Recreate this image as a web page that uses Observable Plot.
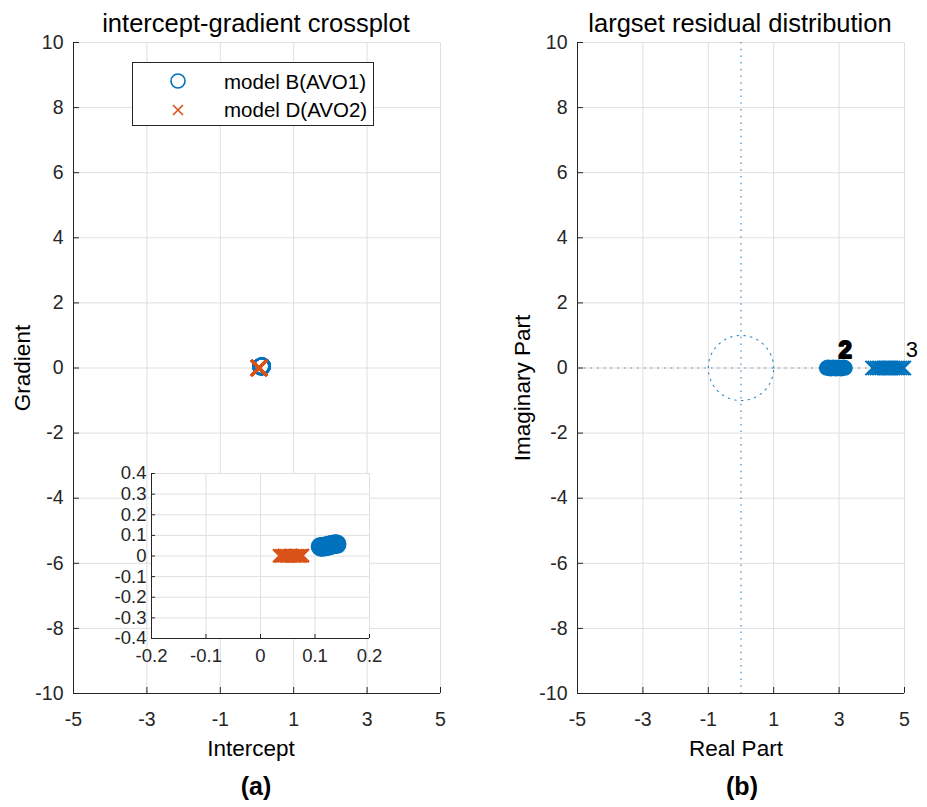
<!DOCTYPE html>
<html>
<head>
<meta charset="utf-8">
<script src="https://cdn.jsdelivr.net/npm/d3@7"></script>
<script src="https://cdn.jsdelivr.net/npm/@observablehq/plot@0.6"></script>
<style>
  body { margin: 0; background: #fff; }
  #fig { position: relative; width: 927px; height: 807px; background: #fff; overflow: hidden; }
  #fig > svg { position: absolute; }
</style>
</head>
<body>
<div id="fig"></div>
<script>
// ---- intercept-gradient crossplot: model B (AVO1) ----
const modelBIntercept = [0.110, 0.112, 0.114, 0.117, 0.119, 0.121, 0.124, 0.126, 0.128, 0.131, 0.133, 0.135, 0.138, 0.140];
const modelBGradient  = [0.045, 0.044, 0.046, 0.045, 0.047, 0.048, 0.049, 0.051, 0.053, 0.054, 0.056, 0.057, 0.058, 0.057];

// ---- intercept-gradient crossplot: model D (AVO2) ----
const modelDIntercept = [0.035, 0.038, 0.041, 0.044, 0.047, 0.050, 0.053, 0.056, 0.059, 0.062, 0.065, 0.068, 0.071, 0.074, 0.077];
const modelDGradient  = [0.001, 0.000, 0.001, 0.002, 0.001, 0.000, 0.001, 0.002, 0.001, 0.000, 0.001, 0.001, 0.000, 0.001, 0.002];

const seriesNames = ["model B(AVO1)", "model D(AVO2)"];

// ---- largest residual distribution (complex plane) ----
const zeroReal = [2.62, 2.66, 2.70, 2.74, 2.78, 2.82, 2.86, 2.90, 2.94, 2.98, 3.02, 3.06, 3.10, 3.14, 3.18];
const zeroImag = [0, 0.02, 0, -0.02, 0, 0.02, 0, -0.02, 0, 0.02, 0, -0.02, 0, 0.02, 0];
const poleReal = [4.02, 4.09, 4.16, 4.23, 4.30, 4.37, 4.44, 4.51, 4.58, 4.65, 4.72, 4.79, 4.86, 4.93, 4.98];
const poleImag = [0, 0, 0, 0, 0, 0, 0, 0, 0, 0, 0, 0, 0, 0, 0];
// multiplicity labels, anchored at a root
const multiplicityText = ["2", "3"];
const multiplicityReal = [3.00, 4.98];
const multiplicityImag = [0, 0];

// ---- axes ----
const mainXDomain = [-5, 5];
const mainYDomain = [-10, 10];
const mainXTicks = [-5, -3, -1, 1, 3, 5];
const mainYTicks = [-10, -8, -6, -4, -2, 0, 2, 4, 6, 8, 10];
const insetXDomain = [-0.2, 0.2];
const insetYDomain = [-0.4, 0.4];
const insetXTicks = [-0.2, -0.1, 0, 0.1, 0.2];
const insetYTicks = [-0.4, -0.3, -0.2, -0.1, 0, 0.1, 0.2, 0.3, 0.4];

// ---- styling ----
const FONT = '"Liberation Sans", Arial, Helvetica, sans-serif';
const INK = "#262626";
const GRID = "#dfdfdf";
const BLUE = "#0072BD";
const ORANGE = "#D95319";
const TICK_FONT = 19.5;

const fmt = d => String(d);
const style = size => ({fontFamily: FONT, fontSize: size + "px", color: INK, background: "transparent", overflow: "visible", maxWidth: "none"});

const modelB = modelBIntercept.map((x, i) => ({x, y: modelBGradient[i]}));
const modelD = modelDIntercept.map((x, i) => ({x, y: modelDGradient[i]}));
const zeros = zeroReal.map((x, i) => ({x, y: zeroImag[i]}));
const poles = poleReal.map((x, i) => ({x, y: poleImag[i]}));
const multiplicity = multiplicityText.map((t, i) => ({t, x: multiplicityReal[i], y: multiplicityImag[i]}));

// grid, left/bottom axis lines, inward ticks and tick labels (box off)
function axesMarks(xDomain, yDomain, xTicks, yTicks, {tick = 6, xPad = 19, yPad = 10} = {}) {
  return [
    Plot.gridX(xTicks, {stroke: GRID, strokeOpacity: 1}),
    Plot.gridY(yTicks, {stroke: GRID, strokeOpacity: 1}),
    Plot.ruleX([xDomain[0]], {stroke: INK}),
    Plot.ruleY([yDomain[0]], {stroke: INK}),
    Plot.axisX(xTicks, {tickSize: -tick, fill: "none", stroke: INK, label: null}),
    Plot.axisY(yTicks, {tickSize: -tick, fill: "none", stroke: INK, label: null}),
    Plot.axisX(xTicks, {tickSize: 0, tickPadding: xPad, tickFormat: fmt, label: null, fill: INK}),
    Plot.axisY(yTicks, {tickSize: 0, tickPadding: yPad, tickFormat: fmt, label: null, fill: INK})
  ];
}

const fig = document.getElementById("fig");
function place(node, left, top) {
  node.style.left = left + "px";
  node.style.top = top + "px";
  fig.appendChild(node);
}

// (a) main crossplot
const crossplot = Plot.plot({
  width: 460, height: 730,
  marginLeft: 73, marginRight: 20, marginTop: 42, marginBottom: 37,
  style: style(TICK_FONT),
  x: {domain: mainXDomain},
  y: {domain: mainYDomain},
  marks: [
    ...axesMarks(mainXDomain, mainYDomain, mainXTicks, mainYTicks),
    Plot.dot(modelB, {x: "x", y: "y", r: 8, symbol: "circle", stroke: BLUE, strokeWidth: 2}),
    Plot.dot(modelD, {x: "x", y: "y", r: 7, symbol: "times", stroke: ORANGE, strokeWidth: 2.2})
  ]
});
place(crossplot, 0, 0);

// (a) zoomed inset around the origin
const inset = Plot.plot({
  width: 300, height: 240,
  marginLeft: 51, marginRight: 31, marginTop: 33, marginBottom: 42,
  style: style(18.5),
  x: {domain: insetXDomain},
  y: {domain: insetYDomain},
  marks: [
    Plot.frame({fill: "white", stroke: "none"}),
    ...axesMarks(insetXDomain, insetYDomain, insetXTicks, insetYTicks, {tick: 4, xPad: 10, yPad: 5}),
    Plot.dot(modelB, {x: "x", y: "y", r: 8.5, symbol: "circle", stroke: BLUE, strokeWidth: 2.5}),
    Plot.dot(modelD, {x: "x", y: "y", r: 6, symbol: "times", stroke: ORANGE, strokeWidth: 2.2})
  ]
});
place(inset, 100, 440);

// (b) residual distribution with unit circle
const unitCircle = d3.range(0, 361, 2).map(a => ({x: Math.cos(a * Math.PI / 180), y: Math.sin(a * Math.PI / 180)}));
const dotted = {stroke: BLUE, strokeWidth: 1.1, strokeDasharray: "1.5,5.2", strokeOpacity: 0.85};
const residual = Plot.plot({
  width: 457, height: 730,
  marginLeft: 107, marginRight: 23, marginTop: 42, marginBottom: 37,
  style: style(TICK_FONT),
  x: {domain: mainXDomain},
  y: {domain: mainYDomain},
  marks: [
    ...axesMarks(mainXDomain, mainYDomain, mainXTicks, mainYTicks),
    Plot.line(unitCircle, {x: "x", y: "y", ...dotted}),
    Plot.ruleX([0], dotted),
    Plot.ruleY([0], {...dotted, stroke: "#4a6f8f"}),
    Plot.dot(zeros, {x: "x", y: "y", r: 6.5, symbol: "circle", stroke: BLUE, strokeWidth: 2.5}),
    Plot.dot(poles, {x: "x", y: "y", r: 6.5, symbol: "times", stroke: BLUE, strokeWidth: 2}),
    Plot.text(multiplicity.slice(0, 1), {x: "x", y: "y", text: "t", dx: 6, dy: -18, fontSize: 24, fontWeight: "bold", fill: "#000", stroke: "#000", strokeWidth: 2}),
    Plot.text(multiplicity.slice(1), {x: "x", y: "y", text: "t", dx: 8, dy: -18, fontSize: 22, fill: "#000"})
  ]
});
place(residual, 470, 0);

// titles, axis labels, panel letters and legend
const overlay = d3.create("svg").attr("width", 927).attr("height", 807)
  .style("font-family", FONT).style("pointer-events", "none");
place(overlay.node(), 0, 0);

const label = (x, y, text, size, extra = {}) => {
  const t = overlay.append("text").attr("x", x).attr("y", y).attr("text-anchor", "middle")
    .attr("font-size", size).attr("fill", "#000").text(text);
  for (const [k, v] of Object.entries(extra)) t.attr(k, v);
  return t;
};
label(256, 32, "intercept-gradient crossplot", 25.5);
label(740, 32, "largset residual distribution", 25.5);
label(251, 756, "Intercept", 22.5);
label(736, 756, "Real Part", 22.5);
label(0, 0, "Gradient", 22.5, {transform: "translate(30,368) rotate(-90)"});
label(0, 0, "Imaginary Part", 22.5, {transform: "translate(530,388) rotate(-90)"});
label(256, 795, "(a)", 25, {"font-weight": "bold"});
label(742, 795, "(b)", 25, {"font-weight": "bold"});

const legend = overlay.append("g");
legend.append("rect").attr("x", 132.5).attr("y", 62.5).attr("width", 241).attr("height", 63)
  .attr("fill", "#fff").attr("stroke", INK).attr("stroke-width", 1);
legend.append("circle").attr("cx", 178).attr("cy", 81).attr("r", 7)
  .attr("fill", "none").attr("stroke", BLUE).attr("stroke-width", 1.6);
legend.append("path").attr("d", "M173,105L183,115M173,115L183,105")
  .attr("fill", "none").attr("stroke", ORANGE).attr("stroke-width", 1.6);
seriesNames.forEach((name, i) => {
  legend.append("text").attr("x", 224).attr("y", 89 + i * 28).attr("font-size", 20.5)
    .attr("fill", "#000").text(name);
});
</script>
</body>
</html>
